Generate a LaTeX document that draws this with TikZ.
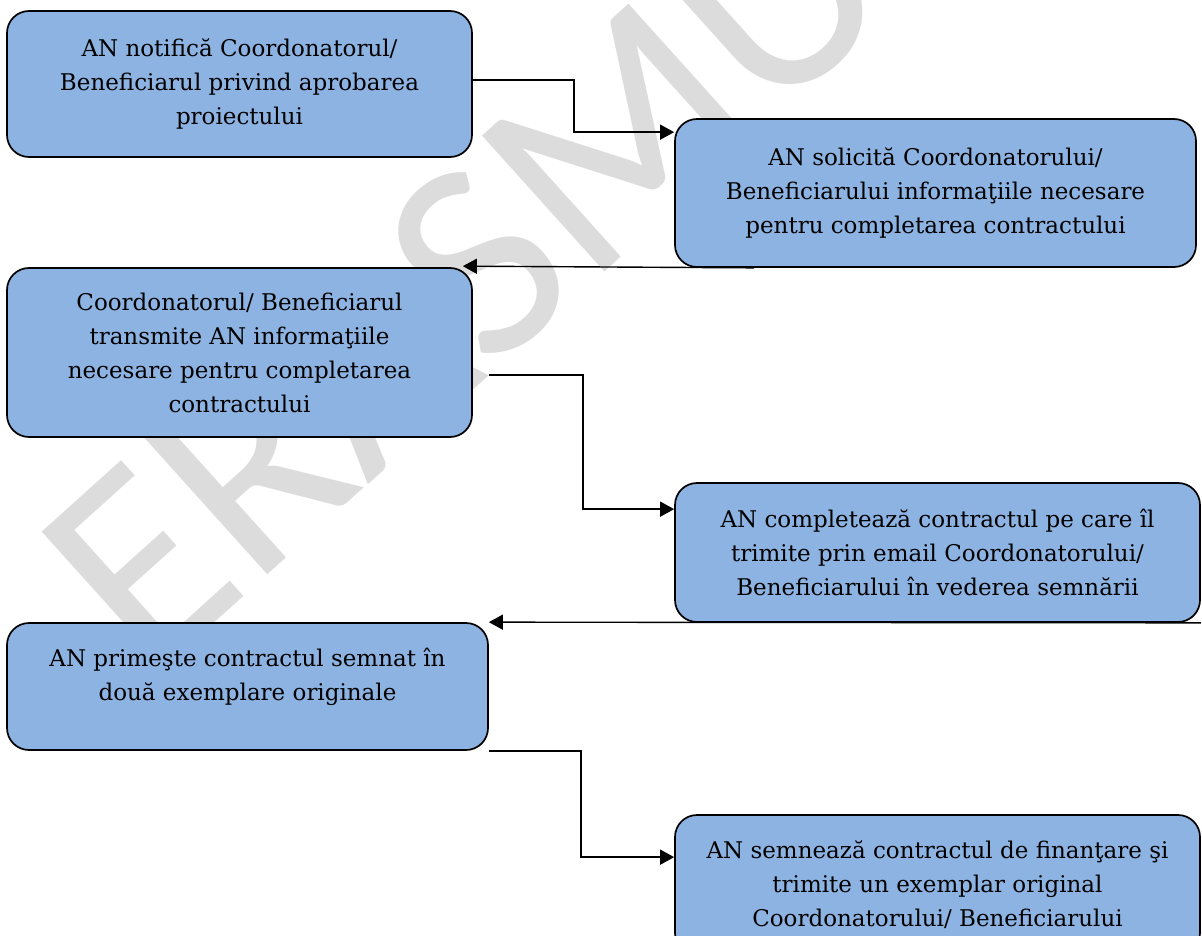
\documentclass[tikz,border=0pt]{standalone}
\usepackage{fontspec}
\setmainfont{DejaVu Serif}
\newfontfamily\wmfont{Carlito}
\usetikzlibrary{positioning,arrows.meta}
\definecolor{boxblue}{RGB}{141,179,226}
\definecolor{wmgray}{RGB}{220,220,220}

\tikzset{
  stepbox/.style={draw=black, line width=1.7pt, fill=boxblue, rounded corners=22pt,
    align=center, inner sep=0pt, font=\fontsize{23}{34}\selectfont},
  flow/.style={-{Triangle[length=14pt,width=15pt]}, line width=1.4pt},
}

\begin{document}
\begin{tikzpicture}[x=1pt,y=-1pt]
       \useasboundingbox (0,0) rectangle (1202,936);
       % watermark
       \node[rotate=42, anchor=base west, text=wmgray, inner sep=0pt,
             font=\wmfont\fontsize{285}{285}\selectfont] (wm) at (149,682) {ERASMUS};
       % steps
       \node[stepbox, minimum width=465pt, minimum height=146pt] (b1) at (239.5,84)
         {AN notifică Coordonatorul/\\ Beneficiarul privind aprobarea\\ proiectului};
       \node[stepbox, minimum width=521pt, minimum height=148pt] (b2) at (935.5,193)
         {AN solicită Coordonatorului/\\ Beneficiarului informaţiile necesare\\ pentru completarea contractului};
       \node[stepbox, minimum width=465pt, minimum height=169pt] (b3) at (239.5,352.5)
         {Coordonatorul/ Beneficiarul\\ transmite AN informaţiile\\ necesare pentru completarea\\ contractului};
       \node[stepbox, minimum width=525pt, minimum height=139pt] (b4) at (937.5,552.5)
         {AN completează contractul pe care îl\\ trimite prin email Coordonatorului/\\ Beneficiarului în vederea semnării};
       \node[stepbox, minimum width=481pt, minimum height=127pt] (b5) at (247.5,686.5)
         {AN primeşte contractul semnat în\\ două exemplare originale\\[-10pt]};
       \node[stepbox, minimum width=525pt, minimum height=140pt] (b6) at (937.5,885)
         {AN semnează contractul de finanţare şi\\ trimite un exemplar original\\ Coordonatorului/ Beneficiarului};
       % connectors
       \draw[flow] ([yshift=4pt]b1.east) -- ++(101,0) |- ([yshift=-14pt]b2.north west);
       \draw[flow] ([xshift=80pt]b2.south west) -- ([xshift=-10pt,yshift=1pt]b3.north east);
       \draw[flow] ([xshift=16pt,yshift=-22.5pt]b3.east) -- ++(94,0) |- ([yshift=-27pt]b4.north west);
       \draw[flow] (b4.south east) -- (b5.north east);
       \draw[flow] (b5.south east) -- ++(92,0) |- ([yshift=-43pt]b6.north west);
     \end{tikzpicture}
\end{document}
